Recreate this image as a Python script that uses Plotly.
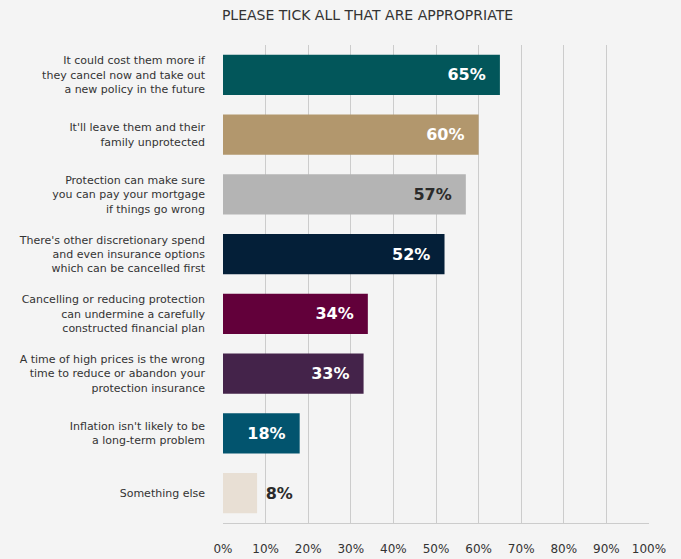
import plotly.graph_objects as go

categories = [
    "It could cost them more if<br>they cancel now and take out<br>a new policy in the future",
    "It'll leave them and their<br>family unprotected",
    "Protection can make sure<br>you can pay your mortgage<br>if things go wrong",
    "There's other discretionary spend<br>and even insurance options<br>which can be cancelled first",
    "Cancelling or reducing protection<br>can undermine a carefully<br>constructed financial plan",
    "A time of high prices is the wrong<br>time to reduce or abandon your<br>protection insurance",
    "Inflation isn't likely to be<br>a long-term problem",
    "Something else",
]
values = [65, 60, 57, 52, 34, 33, 18, 8]
bar_colors = ["#02565A", "#B2976D", "#B4B4B4", "#041F38", "#62003A", "#44234A", "#02546E", "#E8DFD4"]
label_colors = ["#FFFFFF", "#FFFFFF", "#2B2B2B", "#FFFFFF", "#FFFFFF", "#FFFFFF", "#FFFFFF", "#2B2B2B"]
label_positions = ["inside"] * 7 + ["outside"]
x_ticks = list(range(0, 101, 10))

# inside labels get a little right-hand padding (non-breaking spaces)
labels = [
    f"{v}%\u00a0\u00a0" if pos == "inside" else f"\u00a0{v}%"
    for v, pos in zip(values, label_positions)
]

fig = go.Figure(
    go.Bar(
        x=values,
        y=categories,
        orientation="h",
        marker=dict(color=bar_colors, line=dict(width=0)),
        width=0.67,
        text=labels,
        textposition=label_positions,
        insidetextanchor="end",
        textfont=dict(family="DejaVu Sans", size=16, color=label_colors, weight="bold"),
        cliponaxis=False,
    )
)

fig.update_layout(
    width=681,
    height=559,
    margin=dict(l=223, r=32, t=45, b=36, autoexpand=False),
    paper_bgcolor="#F4F4F4",
    plot_bgcolor="#F4F4F4",
    showlegend=False,
    uniformtext=dict(mode=False),
    title=dict(
        text="PLEASE TICK ALL THAT ARE APPROPRIATE",
        xref="container",
        x=367.5 / 681,
        xanchor="center",
        yref="container",
        y=1 - 15 / 559,
        yanchor="middle",
        font=dict(family="DejaVu Sans", size=14, color="#333333"),
    ),
    xaxis=dict(
        range=[0, 100],
        tickvals=x_ticks,
        ticktext=[f"{t}%" for t in x_ticks],
        showgrid=True,
        gridcolor="#CCCCCC",
        gridwidth=1,
        zeroline=False,
        showline=True,
        linecolor="#CCCCCC",
        linewidth=1,
        ticks="",
        automargin=False,
        ticklabelstandoff=15,
        tickfont=dict(family="DejaVu Sans", size=12, color="#333333"),
        fixedrange=True,
    ),
    yaxis=dict(
        autorange="reversed",
        showgrid=False,
        zeroline=False,
        showline=False,
        ticks="",
        automargin=False,
        ticklabelstandoff=17,
        tickfont=dict(family="DejaVu Sans", size=11, color="#333333"),
        fixedrange=True,
    ),
)

fig.write_html("out.html")
